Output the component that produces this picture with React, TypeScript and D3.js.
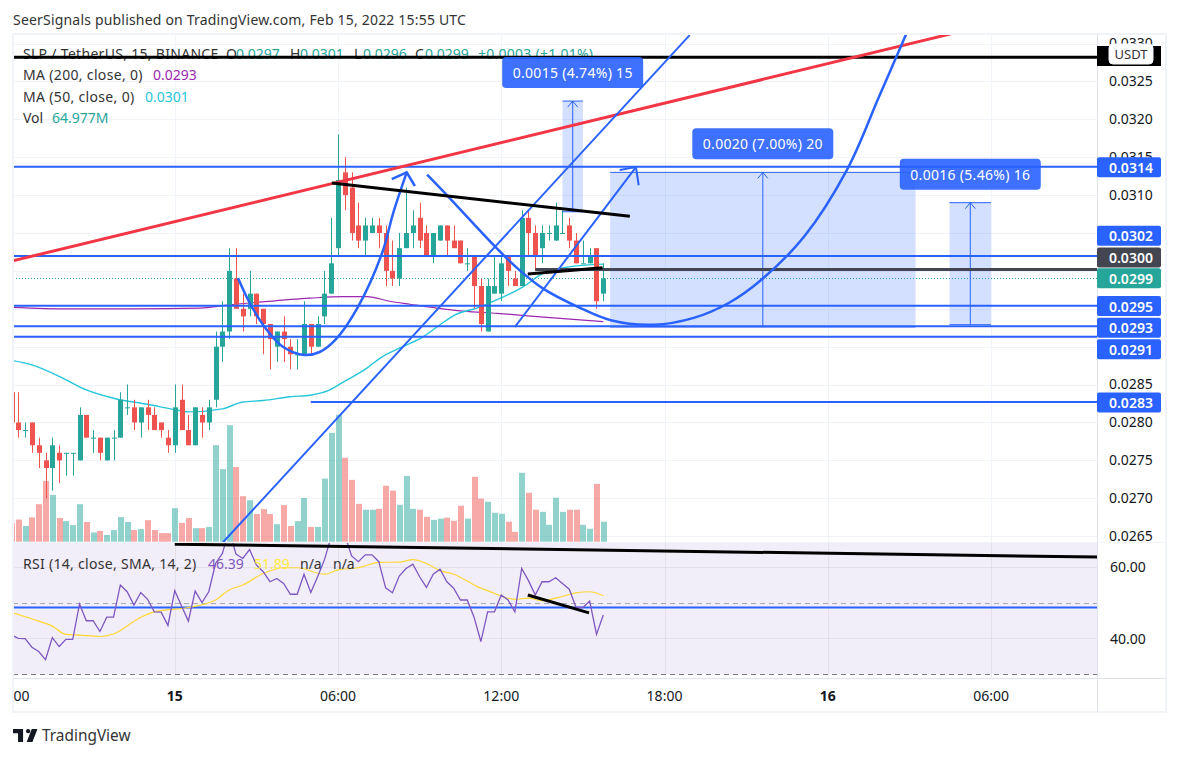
import React, { useEffect, useRef } from 'react';
import * as d3 from 'd3';

// all prices are in ticks of 0.0001, all x positions in 15 minute bars (bar 0 = Feb 14 18:00)
const opens = [284, 280, 279, 280, 277, 275, 274, 276, 276, 276, 275, 281, 278, 278, 275, 278, 278, 282, 282, 280, 282, 281, 280, 278, 277, 283, 279, 277, 281, 280, 283, 290, 292, 299, 295, 295, 297, 295, 293, 290, 292, 290, 289, 289, 293, 290, 294, 297, 303, 313, 311, 306, 304, 305, 306, 305, 300, 299, 303, 305, 307, 305, 302, 304, 306, 304, 304, 301, 302, 298, 292, 297, 297, 302, 299, 298, 307, 305, 303, 305, 304, 305, 306, 304, 301, 301, 303, 297];
const highs = [284, 284, 280, 280, 278, 276, 278, 277, 276, 276, 282, 281, 279, 278, 278, 279, 284, 285, 283, 282, 283, 282, 280, 279, 285, 285, 281, 282, 282, 283, 292, 296, 303, 303, 297, 300, 297, 295, 293, 292, 294, 291, 291, 296, 293, 294, 300, 307, 318, 315, 313, 309, 307, 307, 307, 306, 304, 305, 311, 308, 309, 306, 305, 306, 306, 306, 304, 303, 302, 299, 299, 302, 302, 302, 300, 308, 308, 306, 306, 306, 309, 308, 307, 305, 304, 303, 303, 301];
const lows = [280, 278, 278, 276, 274, 270, 271, 272, 273, 273, 275, 278, 276, 275, 275, 275, 278, 281, 279, 278, 279, 279, 278, 276, 276, 279, 277, 277, 278, 279, 282, 288, 291, 295, 292, 294, 293, 289, 287, 288, 288, 287, 287, 289, 289, 290, 293, 297, 302, 308, 304, 303, 302, 305, 303, 298, 298, 298, 303, 303, 303, 302, 301, 304, 302, 303, 301, 300, 295, 292, 292, 297, 296, 298, 298, 298, 302, 300, 301, 304, 304, 305, 303, 301, 301, 301, 295, 296];
const closes = [280, 279, 279, 277, 276, 274, 277, 275, 276, 276, 281, 278, 278, 276, 278, 278, 283, 282, 280, 282, 281, 279, 279, 277, 282, 279, 277, 282, 280, 282, 290, 292, 300, 295, 294, 297, 294, 293, 291, 292, 291, 289, 289, 293, 290, 293, 297, 301, 312, 310, 305, 304, 306, 306, 305, 300, 299, 303, 305, 306, 304, 302, 305, 306, 304, 303, 301, 301, 298, 293, 298, 298, 301, 300, 298, 307, 305, 302, 305, 305, 306, 305, 304, 301, 301, 302, 296, 299];
const volumes = [60, 72, 51, 79, 122, 197, 152, 77, 67, 54, 122, 64, 30, 35, 22, 38, 80, 64, 38, 41, 70, 38, 28, 28, 109, 61, 77, 44, 44, 48, 314, 236, 379, 243, 148, 135, 90, 106, 90, 57, 119, 51, 67, 142, 48, 48, 205, 354, 413, 273, 201, 123, 104, 104, 107, 182, 166, 120, 214, 107, 104, 81, 71, 75, 78, 68, 117, 75, 211, 140, 130, 94, 91, 65, 32, 224, 159, 104, 97, 55, 143, 97, 104, 104, 55, 42, 188, 65];
const rsi = [40.9, 40.0, 39.9, 37.5, 36.3, 34.0, 40.2, 37.7, 39.7, 39.7, 49.6, 44.9, 44.9, 41.9, 45.9, 45.9, 54.9, 53.0, 49.3, 52.8, 50.9, 47.4, 47.3, 43.6, 53.3, 49.0, 44.8, 53.2, 50.0, 53.0, 60.9, 63.7, 70.2, 63.5, 62.3, 64.8, 60.5, 58.6, 55.8, 56.7, 55.3, 52.3, 52.3, 57.9, 52.8, 57.2, 61.9, 68.4, 69.3, 68.8, 63.0, 61.4, 63.3, 63.3, 61.4, 54.1, 52.7, 57.4, 59.5, 60.7, 57.2, 54.2, 57.9, 59.3, 55.8, 54.0, 50.7, 50.7, 45.9, 39.1, 47.4, 47.4, 52.1, 50.7, 47.4, 59.5, 56.1, 52.1, 55.8, 55.8, 56.9, 55.3, 53.7, 48.6, 48.6, 50.4, 41.1, 46.5];

const ma50: [number, number][] = [[0, 288.2], [3, 287.6], [7, 286.1], [11, 284.3], [15, 283.2], [20, 282.4], [24, 281.7], [26, 281.4], [31, 281.8], [34, 282.7], [37, 282.9], [41, 283.4], [43.9, 283.6], [46.8, 284.3], [48.7, 285.3], [52.3, 287.2], [54.2, 288.5], [57.5, 290.0], [60.5, 291.3], [63, 292.9], [65.2, 294.2], [68.4, 295.1], [71.4, 296.2], [75.2, 297.9], [78.2, 299.7], [81.7, 300.5], [87, 300.9]];
const ma200: [number, number][] = [[0.2, 295.2], [8.2, 295.0], [17.9, 295.0], [27.7, 295.1], [31.7, 295.5], [35.5, 295.8], [43.9, 296.4], [48.7, 296.6], [52.3, 296.6], [55.6, 296.0], [58.6, 295.6], [62.5, 295.1], [66.4, 294.7], [71.4, 294.4], [78.2, 293.9], [87, 293.3]];
const rsiMa: [number, number][] = [[0, 47.2], [3, 45.4], [6, 43.4], [8, 41.1], [10, 40.9], [13, 40.5], [15, 41.2], [19, 45.9], [21, 47.4], [26, 48.6], [30, 50.7], [32, 53.5], [34, 54.9], [37, 58.1], [40, 59.7], [42, 59.7], [46, 57.9], [48, 59.1], [51, 59.7], [54, 61.2], [57, 61.3], [59, 62.0], [61, 60.9], [63, 58.9], [65, 57.9], [69, 54.0], [70, 53.3], [74, 50.9], [76, 51.2], [78, 50.5], [80, 51.2], [83, 52.7], [85, 53.0], [87, 51.9]];

// drawings on the chart, [bar, price]
const redTrend: [number, number][] = [[0.07, 301.3], [138.7, 331.4]];
const cupSmall: [number, number][] = [[33.3, 299.06], [34.8, 296.16], [37, 292.86], [39.9, 290], [43.1, 288.9], [45.3, 289.3], [47.6, 290.9], [50.9, 295.2], [54.5, 302.4], [56.1, 307.6], [58.1, 313]];
const cupSmallHead: [number, number][] = [[55.9, 312.1], [58.1, 313], [59.3, 311.2]];
const cupBig: [number, number][] = [[61.1, 312.7], [64, 310], [71.1, 303.2], [74.3, 300.4], [78.1, 297.7], [83.4, 295.2], [88.1, 293.5], [94.4, 292.9], [100.3, 293.8], [105.5, 295.8], [110.2, 298.8], [116.5, 304.5], [122.8, 313.3], [127.5, 322.9], [131.5, 331.2]];
const channelLong: [number, number][] = [[31.1, 264.2], [99.7, 331.1]];
const channelShort: [number, number][] = [[74, 292.6], [91.8, 313.7]];
const channelHead: [number, number][] = [[89.4, 313.3], [91.8, 313.7], [92.2, 311.3]];
const blackTrends: [number, number][][] = [[[47.1, 311.6], [90.9, 307.2]], [[75.9, 299.6], [86.9, 300.4]]];
const hLevels = [313.75, 301.97, 295.4, 292.7, 291.3];
const lastBar = 159.6;
const supportLevel = 282.7;
const supportStart = 44;
const blackLevel = 328.2;
const darkLevel = 300.2;
const darkStart = 77;
const lastClose = 299;

// price range tool boxes
const rangeBars = [[81, 84], [88, 132.9], [137.9, 144]];
const rangePrices = [[307.8, 322.4], [292.6, 313], [292.9, 309]];
const rangeLabels = ['0.0015 (4.74%) 15', '0.0020 (7.00%) 20', '0.0016 (5.46%) 16'];

// rsi pane drawings, [bar, rsi]
const rsiTrends: [number, number][][] = [[[24, 66.3], [lastBar, 62.7]], [[75.9, 52.1], [84.9, 47.1]]];
const rsiLevel = 48.6;
const rsiBands = [50, 30];

const priceTicks = [330, 325, 320, 315, 310, 305, 300, 295, 290, 285, 280, 275, 270, 265];
const coveredTicks = [305, 300, 295, 290]; // fully behind the axis labels
const rsiTicks = [60, 40];
const timeBars = [0, 24, 48, 72, 96, 120, 144];
const timeLabels = ['18:00', '15', '06:00', '12:00', '18:00', '16', '06:00'];

const axisLabelTexts = ['0.0314', '0.0302', '0.0300', '0.0299', '0.0295', '0.0293', '0.0291', '0.0283'];
const axisLabelColors = ['#2962ff', '#2962ff', '#434651', '#26a69a', '#2962ff', '#2962ff', '#2962ff', '#2962ff'];

const symbolKeys = ['O', 'H', 'L', 'C'];
const symbolValues = ['0.0297', '0.0301', '0.0296', '0.0299'];
const symbolChange = '+0.0003 (+1.01%)';

const FONT = '"Noto Sans", sans-serif';
const BLUE = '#2962ff';
const UP = '#26a69a';
const DOWN = '#ef5350';
const TEXT = '#333';

const App: React.FC = () => {
  const ref = useRef<SVGSVGElement>(null);

  useEffect(() => {
    const svg = d3.select(ref.current);
    svg.selectAll('*').remove();

    const paneLeft = 13, axisX = 1097, outerRight = 1166;
    const paneTop = 34, paneBottom = 542, rsiBottom = 678;

    const x = d3.scaleLinear().domain([0, 87]).range([11.5, 603.3]);
    const y = d3.scaleLinear().domain([290, 325]).range([346.7, 81.4]);
    const yVol = d3.scaleLinear().domain([0, 413]).range([541.7, 414.7]);
    const yRsi = d3.scaleLinear().domain([40, 60]).range([638.3, 566.7]);
    const snap = (v: number) => Math.round(v) + 0.5;

    const priceLine = d3.line<[number, number]>().x(d => x(d[0])).y(d => y(d[1]));
    const cupLine = d3.line<[number, number]>().x(d => x(d[0])).y(d => y(d[1])).curve(d3.curveCatmullRom);
    const maLine = d3.line<[number, number]>().x(d => x(d[0])).y(d => y(d[1])).curve(d3.curveMonotoneX);
    const rsiLine = d3.line<[number, number]>().x(d => x(d[0])).y(d => yRsi(d[1]));
    const rsiMaLine = d3.line<[number, number]>().x(d => x(d[0])).y(d => yRsi(d[1])).curve(d3.curveMonotoneX);

    const defs = svg.append('defs');
    defs.append('clipPath').attr('id', 'main-clip').append('rect')
      .attr('x', paneLeft).attr('y', paneTop).attr('width', axisX - paneLeft).attr('height', paneBottom - paneTop);
    defs.append('clipPath').attr('id', 'rsi-clip').append('rect')
      .attr('x', paneLeft).attr('y', paneBottom + 1).attr('width', axisX - paneLeft).attr('height', rsiBottom - paneBottom - 1);
    defs.append('clipPath').attr('id', 'time-clip').append('rect')
      .attr('x', paneLeft).attr('y', rsiBottom).attr('width', axisX - paneLeft).attr('height', 34);

    const label = (parent: any, px: number, py: number, str: string, color = '#131722', size = 14, spacing = 0) =>
      parent.append('text')
        .attr('x', px).attr('y', py)
        .attr('dominant-baseline', 'central')
        .style('font-family', FONT).style('font-size', size + 'px')
        .style('letter-spacing', spacing + 'px')
        .attr('fill', color)
        .text(str);

    // header
    label(svg, 13, 19.5, 'SeerSignals published on TradingView.com, Feb 15, 2022 15:55 UTC', TEXT, 14, 0.19);

    // grid
    const grid = svg.append('g').attr('stroke', '#f0f3fa').attr('stroke-width', 1);
    priceTicks.forEach(t => {
      grid.append('line').attr('x1', paneLeft).attr('x2', axisX)
        .attr('y1', snap(y(t))).attr('y2', snap(y(t)));
    });
    timeBars.slice(1).forEach(b => {
      grid.append('line').attr('x1', snap(x(b))).attr('x2', snap(x(b)))
        .attr('y1', paneTop).attr('y2', paneBottom);
    });

    // rsi pane background
    const rsiPane = svg.append('g').attr('clip-path', 'url(#rsi-clip)');
    rsiPane.append('rect')
      .attr('x', paneLeft).attr('y', paneBottom)
      .attr('width', axisX - paneLeft).attr('height', yRsi(rsiBands[1]) - paneBottom)
      .attr('fill', '#7e57c2').attr('fill-opacity', 0.1);
    rsiTicks.forEach(t => {
      rsiPane.append('line').attr('x1', paneLeft).attr('x2', axisX)
        .attr('y1', snap(yRsi(t))).attr('y2', snap(yRsi(t))).attr('stroke', '#787b86').attr('stroke-opacity', 0.12);
    });
    timeBars.slice(1).forEach(b => {
      rsiPane.append('line').attr('x1', snap(x(b))).attr('x2', snap(x(b)))
        .attr('y1', paneBottom).attr('y2', rsiBottom).attr('stroke', '#787b86').attr('stroke-opacity', 0.12);
    });
    rsiBands.forEach(t => {
      rsiPane.append('line').attr('x1', paneLeft).attr('x2', axisX)
        .attr('y1', snap(yRsi(t))).attr('y2', snap(yRsi(t)))
        .attr('stroke', '#787b86').attr('stroke-dasharray', '5,4')
        .attr('stroke-opacity', t === 30 ? 1 : 0.6);
    });

    // legend sits under the drawings
    label(svg, 23, 53, 'SLP / TetherUS, 15, BINANCE', TEXT, 14, 0.3);
    const keyX = [226, 290, 354, 415];
    const valueX = [236, 300, 363, 425];
    symbolKeys.forEach((k, i) => {
      label(svg, keyX[i], 53, k, TEXT);
      label(svg, valueX[i], 53, symbolValues[i], UP);
    });
    label(svg, 478, 53, symbolChange, UP, 14, 0.25);
    label(svg, 23, 74.5, 'MA (200, close, 0)', TEXT, 14, 0.33);
    label(svg, 153, 74.5, '0.0293', '#9c27b0');
    label(svg, 23, 96, 'MA (50, close, 0)', TEXT, 14, 0.33);
    label(svg, 145, 96, '0.0301', '#26c6da');
    label(svg, 23, 117, 'Vol', TEXT);
    label(svg, 52, 117, '64.977M', UP);

    const main = svg.append('g').attr('clip-path', 'url(#main-clip)');

    // volume
    main.append('g').selectAll('rect').data(volumes).join('rect')
      .attr('x', (_, i) => Math.round(x(i) - 2.5))
      .attr('y', d => yVol(d))
      .attr('width', 6)
      .attr('height', d => yVol(0) - yVol(d))
      .attr('fill', (_, i) => (closes[i] >= opens[i] ? UP : DOWN))
      .attr('fill-opacity', 0.5);

    // moving averages
    main.append('path').attr('d', maLine(ma200)).attr('fill', 'none').attr('stroke', '#9c27b0').attr('stroke-width', 1.2);
    main.append('path').attr('d', maLine(ma50)).attr('fill', 'none').attr('stroke', '#26c6da').attr('stroke-width', 1.4);

    // last close
    main.append('line').attr('x1', paneLeft).attr('x2', axisX)
      .attr('y1', snap(y(lastClose) - 0.5)).attr('y2', snap(y(lastClose) - 0.5))
      .attr('stroke', UP).attr('stroke-dasharray', '1,2');

    // candles
    opens.forEach((o, i) => {
      const c = closes[i];
      const color = c >= o ? UP : DOWN;
      const cx = snap(x(i));
      main.append('line').attr('x1', cx).attr('x2', cx)
        .attr('y1', y(highs[i])).attr('y2', y(lows[i]))
        .attr('stroke', color).attr('stroke-width', 1);
      main.append('rect')
        .attr('x', cx - 2.5).attr('width', 5)
        .attr('y', y(Math.max(o, c)))
        .attr('height', Math.max(y(Math.min(o, c)) - y(Math.max(o, c)), 1))
        .attr('fill', color);
    });

    // range boxes
    rangeBars.forEach((b, i) => {
      const [lo, hi] = rangePrices[i];
      const mid = (x(b[0]) + x(b[1])) / 2;
      main.append('rect')
        .attr('x', x(b[0])).attr('y', y(hi))
        .attr('width', x(b[1]) - x(b[0])).attr('height', y(lo) - y(hi))
        .attr('fill', BLUE).attr('fill-opacity', 0.2);
      [lo, hi].forEach(p => {
        main.append('line').attr('x1', x(b[0])).attr('x2', x(b[1]))
          .attr('y1', y(p)).attr('y2', y(p)).attr('stroke', BLUE);
      });
      main.append('line').attr('x1', mid).attr('x2', mid)
        .attr('y1', y(lo)).attr('y2', y(hi)).attr('stroke', BLUE);
      main.append('path')
        .attr('d', `M${mid - 5},${y(hi) + 6}L${mid},${y(hi)}L${mid + 5},${y(hi) + 6}`)
        .attr('fill', 'none').attr('stroke', BLUE);
    });

    // horizontal levels
    hLevels.forEach(p => {
      main.append('line').attr('x1', paneLeft).attr('x2', axisX)
        .attr('y1', y(p)).attr('y2', y(p)).attr('stroke', BLUE).attr('stroke-width', 2);
    });
    main.append('line').attr('x1', x(supportStart)).attr('x2', axisX)
      .attr('y1', y(supportLevel)).attr('y2', y(supportLevel)).attr('stroke', BLUE).attr('stroke-width', 2);
    main.append('line').attr('x1', x(darkStart)).attr('x2', axisX)
      .attr('y1', y(darkLevel)).attr('y2', y(darkLevel)).attr('stroke', '#434651').attr('stroke-width', 3);
    main.append('line').attr('x1', paneLeft).attr('x2', axisX)
      .attr('y1', y(blackLevel)).attr('y2', y(blackLevel)).attr('stroke', '#000').attr('stroke-width', 3);

    // trend lines and the two cups
    main.append('path').attr('d', priceLine(redTrend)).attr('fill', 'none').attr('stroke', '#f23645').attr('stroke-width', 3);
    [channelLong, channelShort, channelHead].forEach(l => {
      main.append('path').attr('d', priceLine(l)).attr('fill', 'none').attr('stroke', BLUE).attr('stroke-width', 2);
    });
    [cupSmall, cupBig].forEach(l => {
      main.append('path').attr('d', cupLine(l)).attr('fill', 'none').attr('stroke', BLUE).attr('stroke-width', 2.5);
    });
    main.append('path').attr('d', priceLine(cupSmallHead)).attr('fill', 'none').attr('stroke', BLUE).attr('stroke-width', 2.5);
    blackTrends.forEach(l => {
      main.append('path').attr('d', priceLine(l)).attr('fill', 'none').attr('stroke', '#000').attr('stroke-width', 3);
    });

    // range tool labels, above the box they belong to
    rangeBars.forEach((b, i) => {
      const mid = (x(b[0]) + x(b[1])) / 2;
      const top = y(rangePrices[i][1]);
      svg.append('rect')
        .attr('x', mid - 70.5).attr('y', top - 44)
        .attr('width', 141).attr('height', 31).attr('rx', 4)
        .attr('fill', BLUE).attr('fill-opacity', 0.9);
      label(svg, mid, top - 28.5, rangeLabels[i], '#fff', 14, 0.3).attr('text-anchor', 'middle');
    });

    // rsi lines
    rsiPane.append('line').attr('x1', paneLeft).attr('x2', axisX)
      .attr('y1', yRsi(rsiLevel)).attr('y2', yRsi(rsiLevel)).attr('stroke', BLUE).attr('stroke-width', 2);
    rsiPane.append('path').attr('d', rsiMaLine(rsiMa)).attr('fill', 'none').attr('stroke', '#fdd835').attr('stroke-width', 1.2);
    rsiPane.append('path')
      .attr('d', rsiLine(rsi.map((v, i) => [i, v] as [number, number])))
      .attr('fill', 'none').attr('stroke', '#7e57c2').attr('stroke-width', 1.3);
    rsiTrends.forEach(l => {
      rsiPane.append('path').attr('d', rsiLine(l)).attr('fill', 'none').attr('stroke', '#000').attr('stroke-width', 3);
    });
    label(svg, 23, 563, 'RSI (14, close, SMA, 14, 2)', TEXT, 14, 0.3);
    label(svg, 208, 563, '46.39', '#7e57c2');
    label(svg, 254, 563, '51.89', '#ffeb3b');
    label(svg, 300, 563, 'n/a', TEXT);
    label(svg, 333, 563, 'n/a', TEXT);

    // frame and separators
    svg.append('rect')
      .attr('x', 13).attr('y', 34).attr('width', outerRight - 13).attr('height', 678)
      .attr('fill', 'none').attr('stroke', '#f0f3fa').attr('stroke-width', 2);
    const seps = svg.append('g').attr('stroke', '#e0e3eb');
    seps.append('line').attr('x1', axisX + 0.5).attr('x2', axisX + 0.5).attr('y1', 34).attr('y2', 712);
    seps.append('line').attr('x1', paneLeft).attr('x2', outerRight).attr('y1', rsiBottom + 0.5).attr('y2', rsiBottom + 0.5);
    svg.append('line').attr('x1', paneLeft).attr('x2', outerRight)
      .attr('y1', paneBottom + 0.5).attr('y2', paneBottom + 0.5).attr('stroke', '#f0f3fa');

    // price axis
    const priceAxis = svg.append('g');
    priceTicks.filter(t => !coveredTicks.includes(t)).forEach(t => {
      label(priceAxis, 1109, y(t) - 1, (t / 10000).toFixed(4));
    });
    rsiTicks.forEach(t => {
      label(priceAxis, 1110, yRsi(t), t.toFixed(2));
    });

    // labels on the axis are pushed apart so they don't overlap
    svg.append('rect').attr('x', axisX).attr('y', 46).attr('width', 64).attr('height', 20).attr('fill', '#000');
    svg.append('rect').attr('x', 1109).attr('y', 44).attr('width', 44).attr('height', 20).attr('rx', 4)
      .attr('fill', '#fff').attr('stroke', '#f0f3fa');
    label(svg, 1131, 53.5, 'USDT', TEXT, 13).attr('text-anchor', 'middle');

    const labelCenters = [167.3, 235.7, 257.5, 278.3, 306, 327.7, 349.3, 402.5];
    axisLabelTexts.forEach((t, i) => {
      svg.append('rect')
        .attr('x', axisX).attr('y', labelCenters[i] - 10)
        .attr('width', 64).attr('height', 20).attr('rx', 2)
        .attr('fill', axisLabelColors[i]);
      label(svg, 1109, labelCenters[i], t, '#fff').style('font-weight', 600);
    });

    // time axis
    const timeAxis = svg.append('g').attr('clip-path', 'url(#time-clip)');
    timeBars.forEach((b, i) => {
      const isDay = !timeLabels[i].includes(':');
      label(timeAxis, x(b), 695, timeLabels[i])
        .attr('text-anchor', 'middle')
        .style('font-weight', isDay ? 700 : 400);
    });

    // footer logo
    svg.append('path')
      .attr('transform', 'translate(13,729) scale(0.72)')
      .attr('d', 'M14 0H0v6h7v12h7V0zm20 0h-8l-7 18h8l7-18zM21 6a3 3 0 1 0 0-6 3 3 0 0 0 0 6z')
      .attr('fill', '#131722');
    label(svg, 42, 735.5, 'TradingView', TEXT, 15.4);
  }, []);

  return (
    <svg
      ref={ref}
      width={1179}
      height={757}
      style={{ position: 'absolute', left: 0, top: 0, background: '#fff' }}
    />
  );
};

export default App;
